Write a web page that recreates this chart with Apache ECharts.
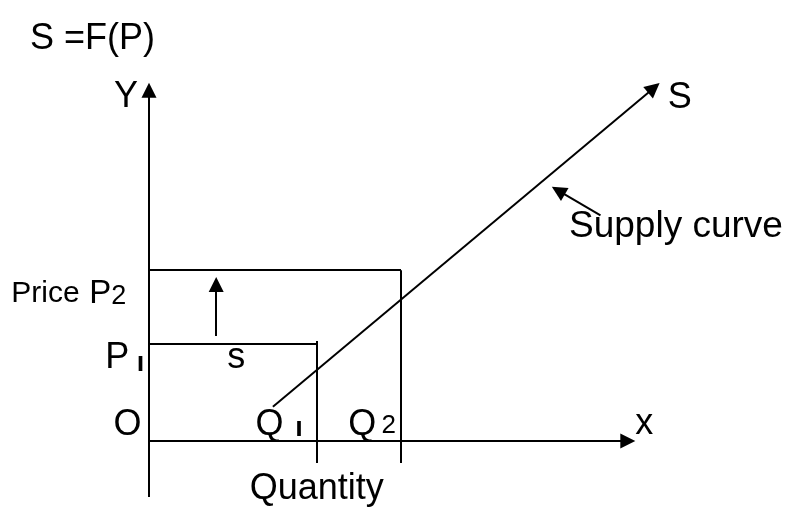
<!DOCTYPE html>
<html>
<head>
<meta charset="utf-8">
<title>S = F(P)</title>
<script src="https://cdn.jsdelivr.net/npm/echarts@6/dist/echarts.min.js"></script>
<style>
  html, body { margin: 0; padding: 0; background: #fff; }
  #chart { width: 787px; height: 507px; }
</style>
</head>
<body>
<div id="chart"></div>
<script>
// diagram values (quantity units on x, price units on y)
const quantityLevels = [4, 6]        // Q1, Q2
const priceLevels = [4, 7]           // P1, P2
const supplyFrom = [2.95, 1.4]
const supplyTo = [12.02, 14.47]      // arrow head centre
const yAxisRange = [-2.3, 14.38]     // vertical axis, bottom to arrow head centre
const xAxisEnd = 11.4                // horizontal axis arrow head centre
const quantityDrop = -0.9            // Q guide lines run below the axis
const shiftArrow = [1.6, 4.3, 6.41]  // x, from y, to y
const pointerFrom = [10.75, 9.25]
const pointerTo = [9.745, 10.26]

const FONT = 'Liberation Sans, Arial, sans-serif'

const chart = echarts.init(document.getElementById('chart'))

// plain segments: price and quantity guides
const guides = [
  [[0, priceLevels[0]], [quantityLevels[0], priceLevels[0]]],
  [[quantityLevels[0], priceLevels[0] + 0.1], [quantityLevels[0], quantityDrop]],
  [[0, priceLevels[1]], [quantityLevels[1], priceLevels[1]]],
  [[quantityLevels[1], priceLevels[1]], [quantityLevels[1], quantityDrop]]
]

// segments that end in an arrow head
const arrows = [
  [[0, yAxisRange[0]], [0, yAxisRange[1]]],
  [[0, 0], [xAxisEnd, 0]],
  [supplyFrom, supplyTo],
  [[shiftArrow[0], shiftArrow[1]], [shiftArrow[0], shiftArrow[2]]],
  [pointerFrom, pointerTo]
]

// text labels: [text, x, y, align, size]
const labels = [
  ['Y', -0.55, 14.1, 'center', 36],
  ['S', 12.64, 14.06, 'center', 36],
  ['Supply curve', 10.0, 8.79, 'left', 37],
  ['Price', -3.28, 6.05, 'left', 30],
  ['P', -1.42, 6.03, 'left', 33],
  ['2', -0.9, 5.92, 'left', 27],
  ['P', -1.04, 3.4, 'left', 36],
  ['ı', -0.2, 3.16, 'center', 27],
  ['s', 2.08, 3.38, 'center', 36],
  ['O', -0.51, 0.66, 'center', 36],
  ['Q', 2.87, 0.66, 'center', 36],
  ['ı', 3.57, 0.5, 'center', 27],
  ['Q', 5.08, 0.66, 'center', 36],
  ['2', 5.71, 0.62, 'center', 26],
  ['x', 11.79, 0.68, 'center', 36],
  ['Quantity', 2.4, -1.99, 'left', 36]
]

chart.setOption({
  animation: false,
  title: {
    text: 'S =F(P)',
    left: 25,
    top: 16,
    textStyle: { fontFamily: FONT, fontSize: 36, fontWeight: 'normal', color: '#000' }
  },
  grid: { left: 2, right: 8, top: 1.8, bottom: 17.2 },
  xAxis: { type: 'value', min: -3.5, max: 15, show: false },
  yAxis: { type: 'value', min: -2, max: 18, show: false },
  series: [
    {
      type: 'lines',
      coordinateSystem: 'cartesian2d',
      clip: false,
      symbol: 'none',
      lineStyle: { color: '#000', width: 2, opacity: 1, curveness: 0 },
      data: guides.map(c => ({ coords: c }))
    },
    {
      type: 'lines',
      coordinateSystem: 'cartesian2d',
      clip: false,
      symbol: ['none', 'triangle'],
      symbolSize: 15,
      lineStyle: { color: '#000', width: 2, opacity: 1, curveness: 0 },
      data: arrows.map(c => ({ coords: c }))
    },
    {
      type: 'scatter',
      symbolSize: 0,
      clip: false,
      silent: true,
      itemStyle: { opacity: 1 },
      label: {
        show: true,
        position: [0, 0],
        verticalAlign: 'middle',
        color: '#000',
        fontFamily: FONT,
        formatter: '{b}'
      },
      data: labels.map(l => ({
        name: l[0],
        value: [l[1], l[2]],
        label: { align: l[3], fontSize: l[4], fontWeight: l[0] === 'ı' ? 'bold' : 'normal' }
      }))
    }
  ]
})
</script>
</body>
</html>
